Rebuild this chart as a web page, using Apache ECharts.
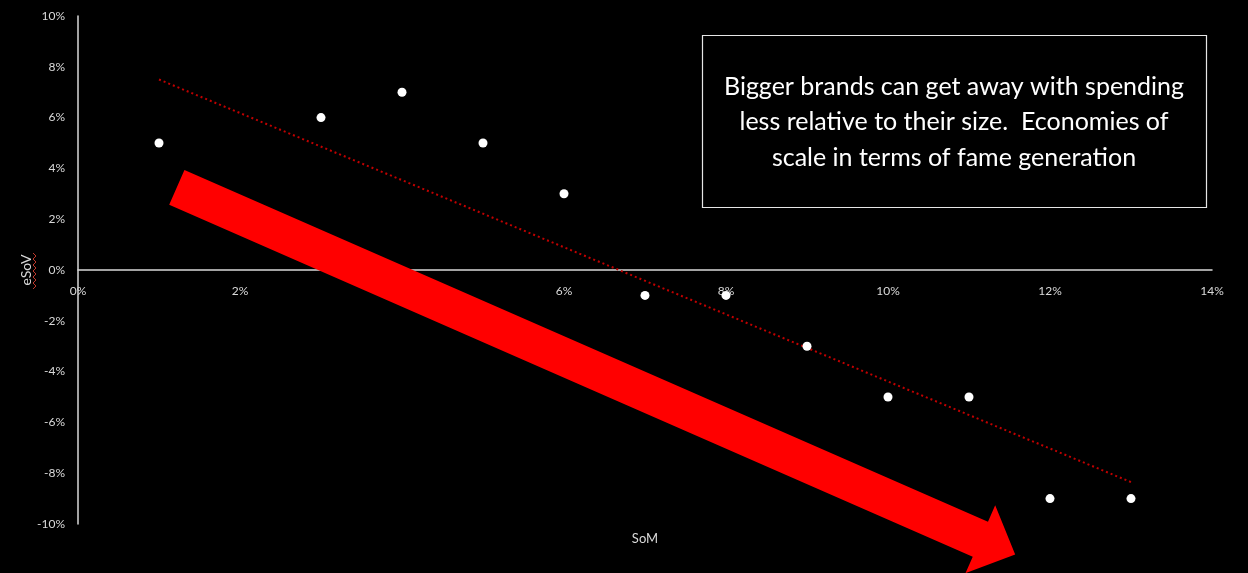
<!DOCTYPE html>
<html>
<head>
<meta charset="utf-8">
<script src="https://cdn.jsdelivr.net/npm/echarts@6/dist/echarts.min.js"></script>
<style>
  html, body { margin: 0; padding: 0; background: #000; }
  #chart { width: 1248px; height: 573px; }
</style>
</head>
<body>
<div id="chart"></div>
<script>
// Share of market (%) vs excess share of voice (%) per brand
const somValues  = [1, 3, 4, 5, 6, 7, 8, 9, 10, 11, 12, 13];
const esovValues = [5, 6, 7, 5, 3, -1, -1, -3, -5, -5, -9, -9];

// Linear trend line end points [SoM, eSoV]
const trendStart = [1, 7.5];
const trendEnd   = [13, -8.35];

// Big red arrow annotation: tail centre and tip, in axis units
const arrowTail = [1.22, 3.25];
const arrowTip  = [11.57, -11.2];

const calloutLines = [
  'Bigger brands can get away with spending',
  'less relative to their size.  Economies of',
  'scale in terms of fame generation'
];

const xTitle = 'SoM';
const yTitle = 'eSoV';

const labelColor = '#d9d9d9';
const font = 'Lato, "Open Sans", sans-serif';

const chart = echarts.init(document.getElementById('chart'));

const points = somValues.map((x, i) => [x, esovValues[i]]);

chart.setOption({
  backgroundColor: '#000000',
  animation: false,
  grid: { left: 78, right: 36, top: 16, bottom: 49, containLabel: false, outerBoundsMode: 'none' },
  xAxis: {
    type: 'value',
    min: 0, max: 14, interval: 2,
    axisLine: { show: true, onZero: false, lineStyle: { color: '#d9d9d9', width: 1.5 } },
    axisTick: { show: false },
    splitLine: { show: false },
    axisLabel: {
      color: labelColor, fontSize: 12, fontFamily: font, margin: 15,
      formatter: v => v + '%'
    }
  },
  yAxis: {
    type: 'value',
    min: -10, max: 10, interval: 2,
    axisLine: { show: true, onZero: false, lineStyle: { color: '#d9d9d9', width: 1.5 } },
    axisTick: { show: false },
    splitLine: { show: false },
    axisLabel: {
      color: labelColor, fontSize: 12, fontFamily: font, margin: 13,
      formatter: v => v + '%'
    }
  },
  series: [
    {
      type: 'line',
      data: [trendStart, trendEnd],
      symbol: 'none',
      lineStyle: { color: '#c00000', width: 2, type: [2, 3] },
      z: 3,
      silent: true
    },
    {
      type: 'scatter',
      data: points,
      symbol: 'circle',
      symbolSize: 9,
      itemStyle: { color: '#ffffff', opacity: 1 },
      z: 4
    }
  ]
});

// Move the horizontal axis up so it crosses the vertical axis at 0%
const zeroPx = chart.convertToPixel({ gridIndex: 0 }, [0, 0]);
const bottomPx = chart.convertToPixel({ gridIndex: 0 }, [0, -10]);
chart.setOption({ xAxis: { offset: zeroPx[1] - bottomPx[1] } });

// Arrow geometry derived from axis positions
const p0 = chart.convertToPixel({ gridIndex: 0 }, arrowTail);
const p1 = chart.convertToPixel({ gridIndex: 0 }, arrowTip);
const dx = p1[0] - p0[0], dy = p1[1] - p0[1];
const len = Math.hypot(dx, dy);
const ux = dx / len, uy = dy / len;
const nx = -uy, ny = ux;
const shaftHalf = 19, headHalf = 37, headLen = 38;
const at = (along, across) => [
  p0[0] + ux * along + nx * across,
  p0[1] + uy * along + ny * across
];
const arrowPoints = [
  at(0, -shaftHalf),
  at(len - headLen, -shaftHalf),
  at(len - headLen, -headHalf),
  at(len, 0),
  at(len - headLen, headHalf),
  at(len - headLen, shaftHalf),
  at(0, shaftHalf)
];

// Axis titles: x below the plot, y rotated left of the vertical axis at 0%
const xTitlePos = chart.convertToPixel({ gridIndex: 0 }, [7, -10]);
const yTitlePos = [26, zeroPx[1]];

// Spell-check style wavy underline beside the rotated y title
const zig = [];
for (let i = 0; i <= 12; i++) {
  zig.push([i % 2 === 0 ? 33 : 36, zeroPx[1] - 17 + i * 3]);
}

chart.setOption({
  graphic: [
    {
      type: 'polygon',
      shape: { points: arrowPoints },
      style: { fill: '#ff0000' },
      z: 100
    },
    {
      type: 'text',
      x: yTitlePos[0], y: yTitlePos[1],
      rotation: Math.PI / 2,
      style: {
        text: yTitle, fill: labelColor, font: '14px ' + font,
        align: 'center', verticalAlign: 'middle'
      },
      z: 50
    },
    {
      type: 'polyline',
      shape: { points: zig },
      style: { stroke: '#c0392b', lineWidth: 1, fill: null },
      z: 100
    },
    {
      type: 'text',
      x: xTitlePos[0], y: xTitlePos[1] + 15,
      style: {
        text: xTitle, fill: labelColor, font: '13px ' + font,
        align: 'center', verticalAlign: 'middle'
      },
      z: 50
    },
    {
      type: 'rect',
      shape: { x: 702.5, y: 35.5, width: 504, height: 172 },
      style: { fill: '#000000', stroke: '#e6e6e6', lineWidth: 1.2 },
      z: 90
    },
    {
      type: 'text',
      x: 954, y: 122,
      style: {
        text: calloutLines.join('\n'),
        fill: '#ffffff',
        font: '25px ' + font,
        lineHeight: 35.5,
        align: 'center',
        verticalAlign: 'middle'
      },
      z: 91
    }
  ]
});
</script>
</body>
</html>
